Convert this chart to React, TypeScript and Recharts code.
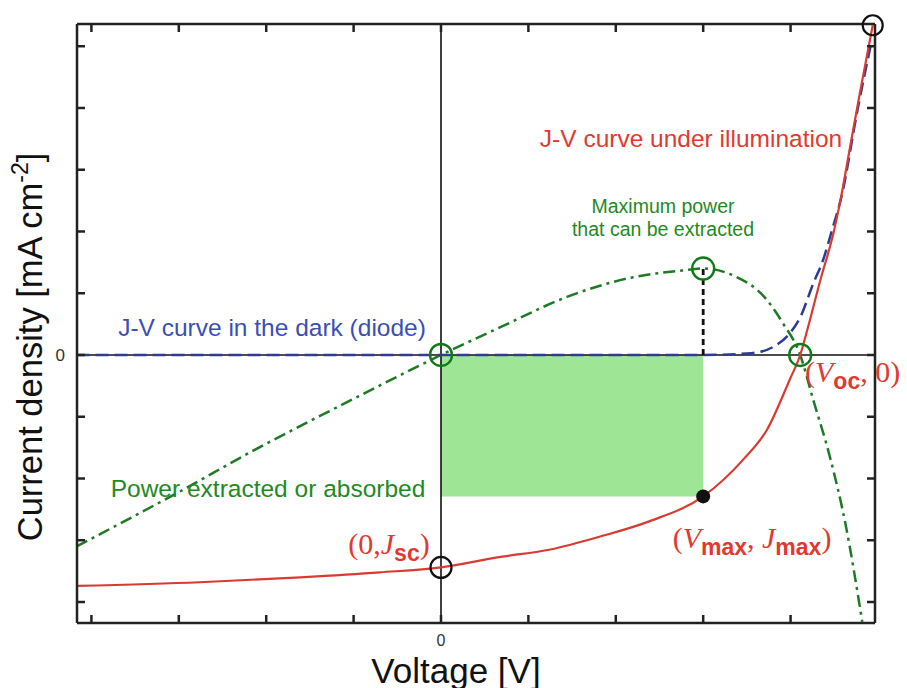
import React from "react";
import {
  ComposedChart,
  Line,
  XAxis,
  YAxis,
  ReferenceLine,
  ReferenceDot,
  ReferenceArea,
} from "recharts";

const voltageTicks = [-4, -3, -2, -1, 0, 1, 2, 3, 4];
const currentTicks = [-4, -3, -2, -1, 0, 1, 2, 3, 4, 5];

// J-V curve under illumination
const litVoltage = [-4.17, -2.76, -1.61, -0.7, 0, 0.68, 1.25, 1.82, 2.39, 3.0, 3.46, 3.73, 3.99, 4.11, 4.22, 4.34, 4.49, 4.57, 4.68, 4.79, 4.94];
const litCurrent = [-3.74, -3.68, -3.6, -3.52, -3.44, -3.27, -3.15, -2.94, -2.69, -2.29, -1.69, -1.21, -0.4, 0, 0.56, 1.21, 1.97, 2.5, 3.36, 4.22, 5.34];

// J-V curve in the dark (diode)
const darkVoltage = [-4.17, 0, 2.98, 3.55, 3.8, 3.99, 4.11, 4.26, 4.37, 4.48, 4.58, 4.77, 4.93];
const darkCurrent = [0, 0, 0, 0.03, 0.13, 0.35, 0.61, 1.16, 1.53, 2.05, 2.55, 4.0, 5.1];

// power extracted / absorbed (scaled)
const powerVoltage = [-4.17, -3.5, -3, -2.15, -1.5, -1, -0.5, 0, 0.68, 1.44, 2.2, 2.77, 3.0, 3.34, 3.73, 3.91, 4.11, 4.26, 4.45, 4.63, 4.82];
const powerValue = [-3.1, -2.6, -2.22, -1.55, -1.07, -0.71, -0.35, 0, 0.45, 0.94, 1.26, 1.37, 1.4, 1.29, 0.89, 0.52, 0, -0.73, -1.65, -2.75, -4.32];

const vMax = 3.0;
const jMax = -2.29;
const pMax = 1.4;
const jSc = -3.44;
const vOc = 4.11;
const vEnd = 4.94;
const jEnd = 5.34;

const litData = litVoltage.map((v, i) => ({ v, j: litCurrent[i] }));
const darkData = darkVoltage.map((v, i) => ({ v, j: darkCurrent[i] }));
const powerData = powerVoltage.map((v, i) => ({ v, j: powerValue[i] }));

const X_DOMAIN: [number, number] = [-4.165, 4.966];
const Y_DOMAIN: [number, number] = [-4.34, 5.36];

const AXIS = "#222";
const RED = "#d93a32";
const RED_TEXT = "#e2392f";
const BLUE = "#2f3c93";
const BLUE_TEXT = "#3b4fb3";
const GREEN = "#1f7a26";
const GREEN_TEXT = "#1f8a24";
const TICK = 8;

const BottomTick = (props: any) => {
  const { x, y, payload } = props;
  return (
    <g>
      <line x1={x} y1={y} x2={x} y2={y - TICK} stroke={AXIS} strokeWidth={2.5} />
      {payload.value === 0 && (
        <text x={x} y={y + 23} textAnchor="middle" fontSize={16} fill="#333" fontFamily="Liberation Sans, Arial, sans-serif">
          0
        </text>
      )}
    </g>
  );
};

const TopTick = (props: any) => {
  const { x, y } = props;
  return <line x1={x} y1={y} x2={x} y2={y + TICK} stroke={AXIS} strokeWidth={2.5} />;
};

const LeftTick = (props: any) => {
  const { x, y, payload } = props;
  return (
    <g>
      <line x1={x} y1={y} x2={x + TICK} y2={y} stroke={AXIS} strokeWidth={2.5} />
      {payload.value === 0 && (
        <text x={x - 12} y={y + 6} textAnchor="end" fontSize={17} fill="#333" fontFamily="Liberation Sans, Arial, sans-serif">
          0
        </text>
      )}
    </g>
  );
};

const RightTick = (props: any) => {
  const { x, y } = props;
  return <line x1={x} y1={y} x2={x - TICK} y2={y} stroke={AXIS} strokeWidth={2.5} />;
};

const serif = '"Liberation Serif", "DejaVu Serif", serif';
const sans = '"Liberation Sans", Arial, sans-serif';

function Sub({ children }: { children: React.ReactNode }) {
  return (
    <span style={{ fontFamily: sans, fontWeight: 700, fontSize: 23, position: "relative", top: 7 }}>
      {children}
    </span>
  );
}

function Note({
  x,
  y,
  color,
  size,
  children,
  align = "center",
}: {
  x: number;
  y: number;
  color: string;
  size: number;
  children: React.ReactNode;
  align?: "center" | "left";
}) {
  return (
    <div
      style={{
        position: "absolute",
        left: x,
        top: y,
        transform: align === "center" ? "translate(-50%, -50%)" : "translate(0, -50%)",
        color,
        fontSize: size,
        lineHeight: 1,
        whiteSpace: "nowrap",
      }}
    >
      {children}
    </div>
  );
}

export default function App() {
  return (
    <div
      style={{
        position: "absolute",
        left: 0,
        top: 0,
        width: 907,
        height: 688,
        background: "#fff",
        fontFamily: sans,
      }}
    >
      <ComposedChart width={907} height={688} margin={{ top: 23, right: 31, bottom: 64, left: 76 }}>
        <XAxis
          xAxisId="b"
          dataKey="v"
          type="number"
          domain={X_DOMAIN}
          ticks={voltageTicks}
          allowDataOverflow
          height={1}
          tickSize={0}
          tickMargin={0}
          tickLine={false}
          tick={<BottomTick />}
          axisLine={{ stroke: AXIS, strokeWidth: 2.5 }}
        />
        <XAxis
          xAxisId="t"
          orientation="top"
          dataKey="v"
          type="number"
          domain={X_DOMAIN}
          ticks={voltageTicks}
          allowDataOverflow
          height={1}
          tickSize={0}
          tickMargin={0}
          tickLine={false}
          tick={<TopTick />}
          axisLine={{ stroke: AXIS, strokeWidth: 2.5 }}
        />
        <YAxis
          yAxisId="l"
          type="number"
          domain={Y_DOMAIN}
          ticks={currentTicks}
          allowDataOverflow
          width={1}
          tickSize={0}
          tickMargin={0}
          tickLine={false}
          tick={<LeftTick />}
          axisLine={{ stroke: AXIS, strokeWidth: 2.5 }}
        />
        <YAxis
          yAxisId="r"
          orientation="right"
          type="number"
          domain={Y_DOMAIN}
          ticks={currentTicks}
          allowDataOverflow
          width={1}
          tickSize={0}
          tickMargin={0}
          tickLine={false}
          tick={<RightTick />}
          axisLine={{ stroke: AXIS, strokeWidth: 2.5 }}
        />

        <ReferenceArea xAxisId="b" yAxisId="l" x1={0} x2={vMax} y1={jMax} y2={0} fill="#9fe596" fillOpacity={1} stroke="none" />
        <ReferenceLine xAxisId="b" yAxisId="l" x={0} stroke="#111" strokeWidth={1.6} />
        <ReferenceLine xAxisId="b" yAxisId="l" y={0} stroke="#111" strokeWidth={1.6} />

        <Line
          xAxisId="b"
          yAxisId="l"
          data={powerData}
          dataKey="j"
          type="monotone"
          stroke={GREEN}
          strokeWidth={2.5}
          strokeDasharray="12 5 3 5"
          dot={false}
          isAnimationActive={false}
        />
        <Line
          xAxisId="b"
          yAxisId="l"
          data={darkData}
          dataKey="j"
          type="monotone"
          stroke={BLUE}
          strokeWidth={2.5}
          strokeDasharray="13 6"
          dot={false}
          isAnimationActive={false}
        />
        <Line
          xAxisId="b"
          yAxisId="l"
          data={litData}
          dataKey="j"
          type="monotone"
          stroke={RED}
          strokeWidth={2.2}
          dot={false}
          isAnimationActive={false}
        />

        <ReferenceLine
          xAxisId="b"
          yAxisId="l"
          segment={[
            { x: vMax, y: 0 },
            { x: vMax, y: pMax },
          ]}
          stroke="#111"
          strokeWidth={2.8}
          strokeDasharray="6 4"
        />

        <ReferenceDot xAxisId="b" yAxisId="l" x={0} y={0} r={11} fill="none" stroke="#117a18" strokeWidth={2.4} />
        <ReferenceDot xAxisId="b" yAxisId="l" x={vMax} y={pMax} r={11} fill="none" stroke="#117a18" strokeWidth={2.4} />
        <ReferenceDot xAxisId="b" yAxisId="l" x={vOc} y={0} r={11} fill="none" stroke="#117a18" strokeWidth={2.4} />
        <ReferenceDot xAxisId="b" yAxisId="l" x={0} y={jSc} r={10.5} fill="none" stroke="#111" strokeWidth={2.2} />
        <ReferenceDot xAxisId="b" yAxisId="l" x={vEnd} y={jEnd} r={10} fill="none" stroke="#111" strokeWidth={2.2} />
        <ReferenceDot xAxisId="b" yAxisId="l" x={vMax} y={jMax} r={7} fill="#111" stroke="none" />
      </ComposedChart>

      <Note x={691} y={139} color={RED_TEXT} size={24.5}>
        J-V curve under illumination
      </Note>
      <Note x={663} y={207} color={GREEN_TEXT} size={19.5}>
        Maximum power
      </Note>
      <Note x={663} y={230} color={GREEN_TEXT} size={19.5}>
        that can be extracted
      </Note>
      <Note x={272} y={328} color={BLUE_TEXT} size={24.5}>
        J-V curve in the dark (diode)
      </Note>
      <Note x={268} y={489} color={GREEN_TEXT} size={24.5}>
        Power extracted or absorbed
      </Note>

      <Note x={389} y={544} color={RED_TEXT} size={30}>
        <span style={{ fontFamily: serif }}>
          (0,<i>J</i>
          <Sub>sc</Sub>)
        </span>
      </Note>
      <Note x={752} y={538} color={RED_TEXT} size={30}>
        <span style={{ fontFamily: serif }}>
          (<i>V</i>
          <Sub>max</Sub>, <i>J</i>
          <Sub>max</Sub>)
        </span>
      </Note>
      <Note x={805} y={372} color={RED_TEXT} size={30} align="left">
        <span style={{ fontFamily: serif }}>
          (<i>V</i>
          <Sub>oc</Sub>, 0)
        </span>
      </Note>

      <Note x={456} y={670} color="#111" size={35}>
        Voltage [V]
      </Note>
      <div
        style={{
          position: "absolute",
          left: 30,
          top: 347,
          transform: "translate(-50%, -50%) rotate(-90deg)",
          color: "#111",
          fontSize: 34.5,
          lineHeight: 1,
          whiteSpace: "nowrap",
        }}
      >
        Current density [mA cm<sup style={{ fontSize: 23, verticalAlign: "top", position: "relative", top: -4 }}>-2</sup>]
      </div>
    </div>
  );
}
